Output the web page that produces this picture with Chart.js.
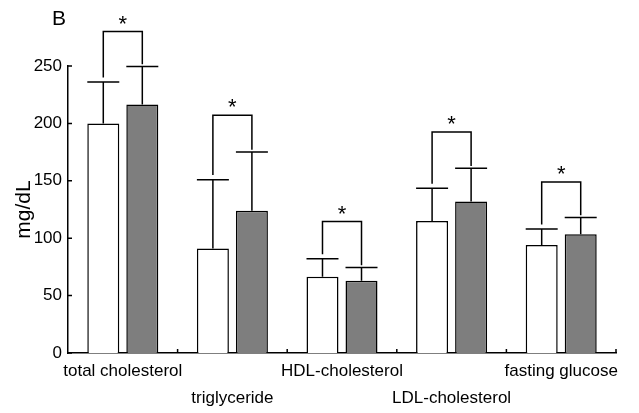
<!DOCTYPE html>
<html>
<head>
<meta charset="utf-8">
<script src="https://cdn.jsdelivr.net/npm/chart.js@4.4.0/dist/chart.umd.min.js"></script>
<style>
  body { margin: 0; background: #fff; }
  #wrap { width: 639px; height: 413px; position: relative; }
</style>
</head>
<body>
<div id="wrap"><canvas id="myChart"></canvas></div>
<script>
// data (mg/dL)
const categories = ['total cholesterol', 'triglyceride', 'HDL-cholesterol', 'LDL-cholesterol', 'fasting glucose'];
const whiteMeans = [200, 91, 66.5, 115, 94];
const whiteSD = [36, 60, 15.5, 28.5, 14];
const greyMeans = [216.5, 124, 63, 132, 103.5];
const greySD = [33, 51, 11.5, 29, 14.5];
const bracketTops = [280, 207, 114.5, 192.5, 149];
const yTicks = [0, 50, 100, 150, 200, 250];

const FONT = '"Liberation Sans", Arial, sans-serif';

// error bars, significance brackets, inward ticks, panel letter
const extras = {
  id: 'extras',
  afterDatasetsDraw(chart) {
    const ctx = chart.ctx;
    const y = chart.scales.y;
    const x = chart.scales.x;
    const sds = [whiteSD, greySD];
    const means = [whiteMeans, greyMeans];
    ctx.save();
    ctx.strokeStyle = '#000';
    ctx.lineWidth = 1.5;

    // error bars (upper only)
    [0, 1].forEach(d => {
      chart.getDatasetMeta(d).data.forEach((bar, i) => {
        const top = y.getPixelForValue(means[d][i] + sds[d][i]);
        const w = bar.width;
        ctx.beginPath();
        ctx.moveTo(bar.x, bar.y);
        ctx.lineTo(bar.x, top);
        ctx.moveTo(bar.x - w / 2, top);
        ctx.lineTo(bar.x + w / 2, top);
        ctx.stroke();
      });
    });

    // brackets with asterisks
    const m0 = chart.getDatasetMeta(0).data;
    const m1 = chart.getDatasetMeta(1).data;
    ctx.fillStyle = '#000';
    ctx.font = '22px ' + FONT;
    ctx.textAlign = 'center';
    ctx.textBaseline = 'top';
    categories.forEach((c, i) => {
      const bt = y.getPixelForValue(bracketTops[i]);
      const l = y.getPixelForValue(whiteMeans[i] + whiteSD[i] + 4);
      const r = y.getPixelForValue(greyMeans[i] + greySD[i] + 2);
      ctx.beginPath();
      ctx.moveTo(m0[i].x, l);
      ctx.lineTo(m0[i].x, bt);
      ctx.lineTo(m1[i].x, bt);
      ctx.lineTo(m1[i].x, r);
      ctx.stroke();
      ctx.fillText('*', (m0[i].x + m1[i].x) / 2, bt - 18);
    });

    // inward ticks on y axis
    ctx.beginPath();
    yTicks.forEach(v => {
      const py = y.getPixelForValue(v);
      ctx.moveTo(x.left, py);
      ctx.lineTo(x.left + 4, py);
    });
    // upward ticks at category boundaries
    const step = (x.right - x.left) / categories.length;
    for (let i = 1; i <= categories.length; i++) {
      const px = x.left + step * i;
      ctx.moveTo(px, y.bottom);
      ctx.lineTo(px, y.bottom - 4);
    }
    ctx.stroke();

    // panel letter
    ctx.font = '21px ' + FONT;
    ctx.textAlign = 'left';
    ctx.textBaseline = 'alphabetic';
    ctx.fillText('B', 52, 25);
    ctx.restore();
  }
};

const data = {
  labels: categories,
  datasets: [
    {
      label: 'white',
      data: whiteMeans,
      backgroundColor: '#ffffff',
      borderColor: '#000000',
      borderWidth: 1.5,
      borderSkipped: 'bottom'
    },
    {
      label: 'grey',
      data: greyMeans,
      backgroundColor: '#7e7e7e',
      borderColor: '#000000',
      borderWidth: 1.5,
      borderSkipped: 'bottom'
    }
  ]
};

const config = {
  type: 'bar',
  data,
  options: {
    responsive: true,
    maintainAspectRatio: false,
    animation: false,
    categoryPercentage: 0.712,
    barPercentage: 0.82,
    layout: { padding: { top: 66, right: 23, left: 0, bottom: 0 } },
    scales: {
      x: {
        grid: { display: false, drawTicks: false },
        border: { display: true, color: '#000', width: 1.5 },
        ticks: {
          color: '#000',
          font: { family: FONT, size: 17, lineHeight: 1.6 },
          padding: 5,
          maxRotation: 0,
          autoSkip: false,
          callback: function (v, i) {
            const lab = categories[i];
            return i % 2 === 1 ? ['', lab] : lab;
          }
        },
        afterFit: s => { s.height = 60; }
      },
      y: {
        min: 0,
        max: 250,
        grid: { display: false, drawTicks: false },
        border: { display: true, color: '#000', width: 1.5 },
        ticks: {
          stepSize: 50,
          color: '#000',
          font: { family: FONT, size: 17 },
          padding: 6
        },
        title: {
          display: true,
          text: 'mg/dL',
          color: '#000',
          font: { family: FONT, size: 21 },
          padding: { top: 12, bottom: 0 }
        },
        afterFit: s => { s.width = 68; }
      }
    },
    plugins: {
      legend: { display: false },
      tooltip: { enabled: false }
    }
  },
  plugins: [extras]
};

const myChart = new Chart(document.getElementById('myChart'), config);
</script>
</body>
</html>
